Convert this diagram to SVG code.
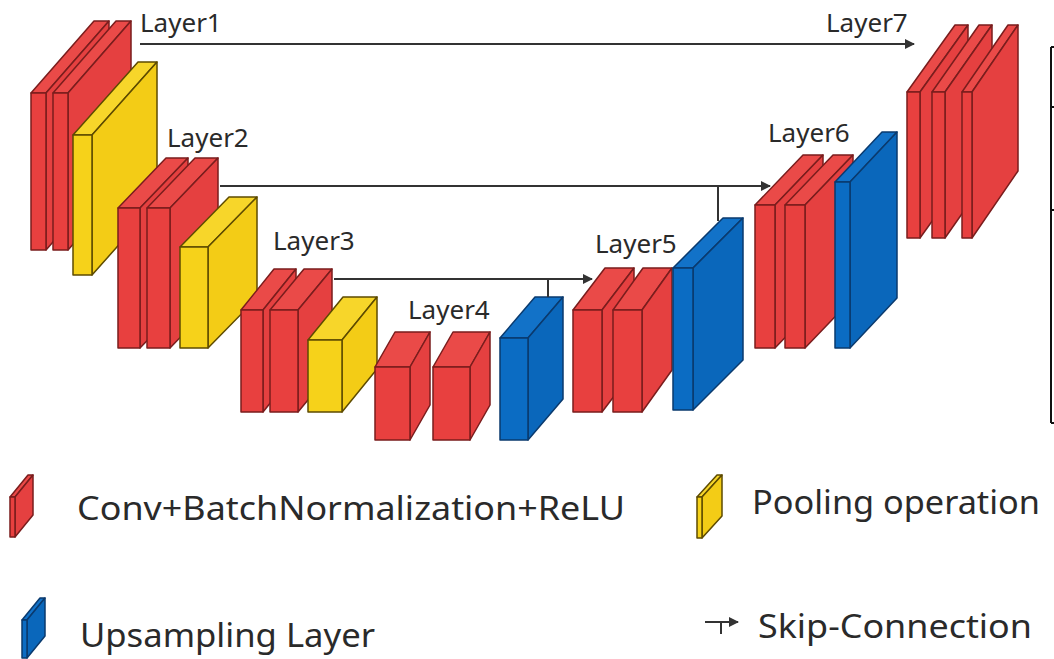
<svg xmlns="http://www.w3.org/2000/svg" width="1054" height="659" viewBox="0 0 1054 659">
  <style>
    .rf { fill: #e8403f; stroke: #7a1d1d; stroke-width: 1.5; stroke-linejoin: round; }
    .rs { fill: #e54040; stroke: #7a1d1d; stroke-width: 1.5; stroke-linejoin: round; }
    .rt { fill: #ea4a48; stroke: #7a1d1d; stroke-width: 1.5; stroke-linejoin: round; }
    .yf { fill: #f6d21a; stroke: #5e4b00; stroke-width: 1.5; stroke-linejoin: round; }
    .ys { fill: #f3cc16; stroke: #5e4b00; stroke-width: 1.5; stroke-linejoin: round; }
    .yt { fill: #f7d62a; stroke: #5e4b00; stroke-width: 1.5; stroke-linejoin: round; }
    .bf { fill: #0b6cc3; stroke: #0a3a6e; stroke-width: 1.5; stroke-linejoin: round; }
    .bs { fill: #0a67bb; stroke: #0a3a6e; stroke-width: 1.5; stroke-linejoin: round; }
    .bt { fill: #1272c8; stroke: #0a3a6e; stroke-width: 1.5; stroke-linejoin: round; }
    .lbl { font-family: "Noto Sans", "Open Sans", "DejaVu Sans", sans-serif; font-size: 26px; fill: #2a2a2a; }
    .leg { font-family: "Noto Sans", "Open Sans", "DejaVu Sans", sans-serif; font-size: 32px; fill: #2a2a2a; }
    .wire { fill: none; stroke: #333; stroke-width: 2; }
    .frame { fill: none; stroke: #111; stroke-width: 2; }
  </style>
  <defs>
    <marker id="arrow" viewBox="0 0 10 10" refX="9" refY="5" markerWidth="6" markerHeight="5" orient="auto" markerUnits="strokeWidth">
      <path d="M0,0 L10,5 L0,10 z" fill="#333"/>
    </marker>
  </defs>

  <rect width="1054" height="659" fill="#ffffff"/>

  <!-- Layer 1: two conv slabs and a pooling block -->
  <g id="layer1">
    <polygon class="rt" points="31,93 94,21 109,21 46,93"/>
    <polygon class="rs" points="46,93 109,21 109,178 46,250"/>
    <rect class="rf" x="31" y="93" width="15" height="157"/>
    <polygon class="rt" points="53,93 116,21 131,21 68,93"/>
    <polygon class="rs" points="68,93 131,21 131,178 68,250"/>
    <rect class="rf" x="53" y="93" width="15" height="157"/>
    <polygon class="yt" points="73,135 138,62 157,62 92,135"/>
    <polygon class="ys" points="92,135 157,62 157,202 92,275"/>
    <rect class="yf" x="73" y="135" width="19" height="140"/>
    <text class="lbl" x="140" y="32">Layer1</text>
  </g>

  <!-- Layer 2 -->
  <g id="layer2">
    <polygon class="rt" points="118,208 166,158 188,158 140,208"/>
    <polygon class="rs" points="140,208 188,158 188,298 140,348"/>
    <rect class="rf" x="118" y="208" width="22" height="140"/>
    <polygon class="rt" points="147,208 195,158 218,158 170,208"/>
    <polygon class="rs" points="170,208 218,158 218,298 170,348"/>
    <rect class="rf" x="147" y="208" width="23" height="140"/>
    <polygon class="yt" points="180,247 229,197 257,197 208,247"/>
    <polygon class="ys" points="208,247 257,197 257,298 208,348"/>
    <rect class="yf" x="180" y="247" width="28" height="101"/>
    <text class="lbl" x="167" y="147">Layer2</text>
  </g>

  <!-- Layer 3 -->
  <g id="layer3">
    <polygon class="rt" points="241,310 274,269 296,269 263,310"/>
    <polygon class="rs" points="263,310 296,269 296,371 263,412"/>
    <rect class="rf" x="241" y="310" width="22" height="102"/>
    <polygon class="rt" points="270,310 304,269 332,269 298,310"/>
    <polygon class="rs" points="298,310 332,269 332,371 298,412"/>
    <rect class="rf" x="270" y="310" width="28" height="102"/>
    <polygon class="yt" points="308,340 343,297 377,297 342,340"/>
    <polygon class="ys" points="342,340 377,297 377,369 342,412"/>
    <rect class="yf" x="308" y="340" width="34" height="72"/>
    <text class="lbl" x="273" y="250">Layer3</text>
  </g>

  <!-- Layer 4: bottleneck convs and first upsampling -->
  <g id="layer4">
    <polygon class="rt" points="375,367 395,332 430,332 410,367"/>
    <polygon class="rs" points="410,367 430,332 430,405 410,440"/>
    <rect class="rf" x="375" y="367" width="35" height="73"/>
    <polygon class="rt" points="433,367 453,332 490,332 470,367"/>
    <polygon class="rs" points="470,367 490,332 490,405 470,440"/>
    <rect class="rf" x="433" y="367" width="37" height="73"/>
    <polygon class="bt" points="500,338 535,297 563,297 528,338"/>
    <polygon class="bs" points="528,338 563,297 563,399 528,440"/>
    <rect class="bf" x="500" y="338" width="28" height="102"/>
    <text class="lbl" x="408" y="319">Layer4</text>
  </g>

  <!-- Layer 5 -->
  <g id="layer5">
    <polygon class="rt" points="573,310 605,268 634,268 602,310"/>
    <polygon class="rs" points="602,310 634,268 634,370 602,412"/>
    <rect class="rf" x="573" y="310" width="29" height="102"/>
    <polygon class="rt" points="613,310 643,268 672,268 642,310"/>
    <polygon class="rs" points="642,310 672,268 672,370 642,412"/>
    <rect class="rf" x="613" y="310" width="29" height="102"/>
    <polygon class="bt" points="673,268 723,218 743,218 693,268"/>
    <polygon class="bs" points="693,268 743,218 743,360 693,410"/>
    <rect class="bf" x="673" y="268" width="20" height="142"/>
    <text class="lbl" x="595" y="253">Layer5</text>
  </g>

  <!-- Layer 6 -->
  <g id="layer6">
    <polygon class="rt" points="755,205 803,155 823,155 775,205"/>
    <polygon class="rs" points="775,205 823,155 823,298 775,348"/>
    <rect class="rf" x="755" y="205" width="20" height="143"/>
    <polygon class="rt" points="785,205 833,155 853,155 805,205"/>
    <polygon class="rs" points="805,205 853,155 853,298 805,348"/>
    <rect class="rf" x="785" y="205" width="20" height="143"/>
    <polygon class="bt" points="835,182 882,132 897,132 850,182"/>
    <polygon class="bs" points="850,182 897,132 897,298 850,348"/>
    <rect class="bf" x="835" y="182" width="15" height="166"/>
    <text class="lbl" x="768" y="142">Layer6</text>
  </g>

  <!-- Layer 7: output convs -->
  <g id="layer7">
    <polygon class="rt" points="907,92 955,25 968,25 920,92"/>
    <polygon class="rs" points="920,92 968,25 968,171 920,238"/>
    <rect class="rf" x="907" y="92" width="13" height="146"/>
    <polygon class="rt" points="932,92 979,25 992,25 945,92"/>
    <polygon class="rs" points="945,92 992,25 992,171 945,238"/>
    <rect class="rf" x="932" y="92" width="13" height="146"/>
    <polygon class="rt" points="962,92 1008,25 1018,25 972,92"/>
    <polygon class="rs" points="972,92 1018,25 1018,171 972,238"/>
    <rect class="rf" x="962" y="92" width="10" height="146"/>
    <text class="lbl" x="826" y="32">Layer7</text>
  </g>

  <!-- skip connections -->
  <g id="connectors">
    <line class="wire" x1="140" y1="44" x2="914" y2="44" marker-end="url(#arrow)"/>
    <line class="wire" x1="220" y1="186" x2="770" y2="186" marker-end="url(#arrow)"/>
    <line class="wire" x1="718" y1="186" x2="718" y2="221"/>
    <line class="wire" x1="334" y1="279" x2="592" y2="279" marker-end="url(#arrow)"/>
    <line class="wire" x1="548" y1="279" x2="548" y2="297"/>
  </g>

  <!-- partial table frame at the right edge -->
  <g id="frame">
    <path class="frame" d="M1051,47 V423 M1051,47 H1056 M1051,107 H1056 M1051,210 H1056 M1051,423 H1056"/>
  </g>

  <!-- legend -->
  <g id="legend-conv">
    <polygon class="rt" points="10,497 28,475 33,475 15,497"/>
    <polygon class="rs" points="15,497 33,475 33,515 15,537"/>
    <rect class="rf" x="10" y="497" width="5" height="40"/>
    <text class="leg" x="77" y="520" textLength="548" lengthAdjust="spacingAndGlyphs">Conv+BatchNormalization+ReLU</text>
  </g>
  <g id="legend-pool">
    <polygon class="yt" points="697,497 717,475 722,475 702,497"/>
    <polygon class="ys" points="702,497 722,475 722,516 702,538"/>
    <rect class="yf" x="697" y="497" width="5" height="41"/>
    <text class="leg" x="752" y="514" textLength="288" lengthAdjust="spacingAndGlyphs">Pooling operation</text>
  </g>
  <g id="legend-up">
    <polygon class="bt" points="22,620 40,598 45,598 27,620"/>
    <polygon class="bs" points="27,620 45,598 45,636 27,658"/>
    <rect class="bf" x="22" y="620" width="5" height="38"/>
    <text class="leg" x="80" y="647" textLength="295" lengthAdjust="spacingAndGlyphs">Upsampling Layer</text>
  </g>
  <g id="legend-skip">
    <line class="wire" x1="705" y1="622" x2="738" y2="622" marker-end="url(#arrow)"/>
    <line class="wire" x1="721" y1="622" x2="721" y2="634"/>
    <text class="leg" x="758" y="638" textLength="274" lengthAdjust="spacingAndGlyphs">Skip-Connection</text>
  </g>
</svg>
